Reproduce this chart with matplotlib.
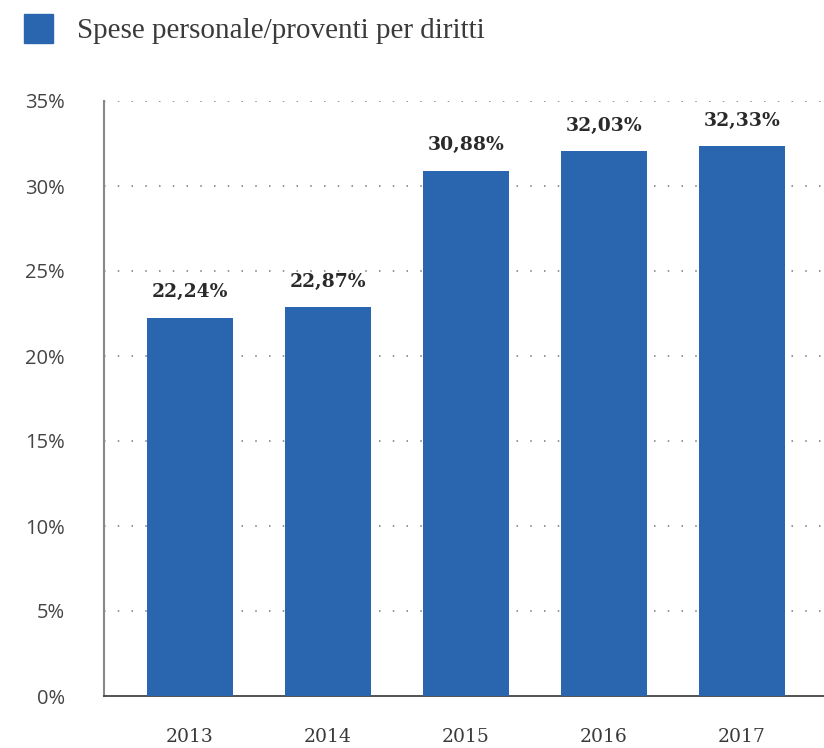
import matplotlib
matplotlib.use("Agg")
import matplotlib.pyplot as plt
from matplotlib.patches import Rectangle

years = ["2013", "2014", "2015", "2016", "2017"]
values = [22.24, 22.87, 30.88, 32.03, 32.33]
value_labels = ["22,24%", "22,87%", "30,88%", "32,03%", "32,33%"]
y_ticks = [0, 5, 10, 15, 20, 25, 30, 35]
y_tick_labels = ["0%", "5%", "10%", "15%", "20%", "25%", "30%", "35%"]
series_name = "Spese personale/proventi per diritti"

bar_color = "#2a66b0"
text_color = "#3a3a3a"

W, H = 824, 748
fig = plt.figure(figsize=(W / 100, H / 100), dpi=100)
ax = fig.add_axes([104 / W, (H - 696) / H, (W - 104) / W, (696 - 101) / H])

x = list(range(len(years)))
ax.bar(x, values, width=0.623, color=bar_color, zorder=3)

ax.set_xlim(-0.623, 4.594)
ax.set_ylim(0, 35)
ax.set_yticks(y_ticks)
ax.set_yticklabels(y_tick_labels, fontsize=14.5, color="#444444", family="Open Sans")
ax.set_xticks(x)
ax.set_xticklabels(years, fontsize=13.5, color=text_color, family="DejaVu Serif")
ax.tick_params(axis="y", length=0, pad=28)
ax.tick_params(axis="x", length=0, pad=23)

for t in y_ticks[1:]:
    ax.axhline(t, color="#777777", linewidth=1.1, linestyle=(0, (1, 8)), zorder=1)

for s in ["top", "right"]:
    ax.spines[s].set_visible(False)
ax.spines["left"].set_color("#888888")
ax.spines["left"].set_linewidth(1.5)
ax.spines["bottom"].set_color("#444444")
ax.spines["bottom"].set_linewidth(1.3)

for xi, v, lab in zip(x, values, value_labels):
    ax.annotate(lab, (xi, v), xytext=(0, 12), textcoords="offset points",
                ha="center", va="bottom", fontsize=13.5, fontweight="bold",
                color="#2a2a2a", family="DejaVu Serif")

# legend swatch and label
fig.patches.append(Rectangle((24 / W, 1 - 43 / H), 29 / W, 29 / H,
                             transform=fig.transFigure, color=bar_color))
fig.text(77 / W, 1 - 31 / H, series_name, fontsize=21, color=text_color,
         family="Liberation Serif", va="center", ha="left")

fig.savefig("out.png", dpi=100)
